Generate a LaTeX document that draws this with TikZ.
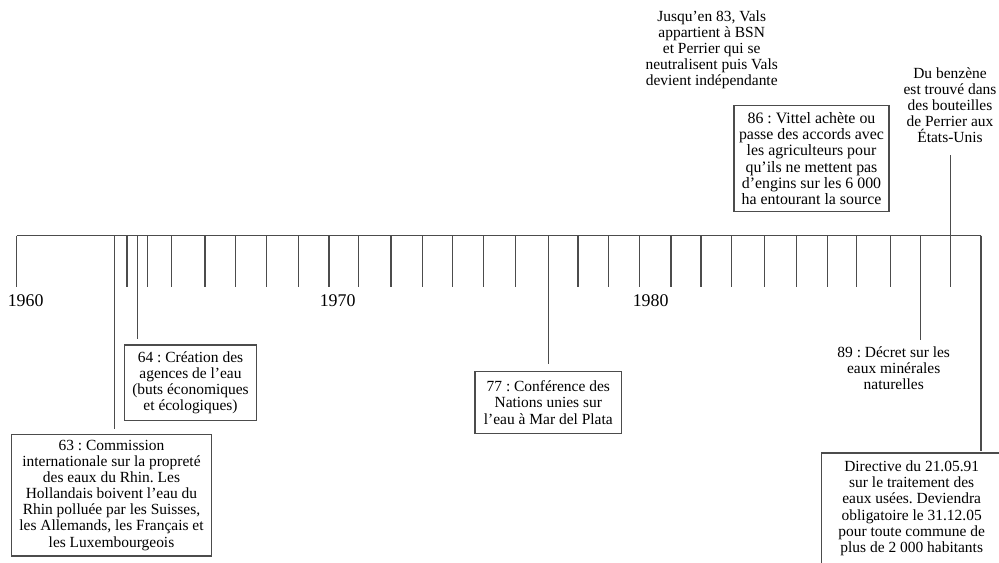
\documentclass[tikz,border=0pt]{standalone}
\usepackage{fontspec}
\setmainfont{Liberation Serif}
\frenchspacing
\tikzset{
  axe/.style={black!70, line width=0.9pt},
  evt/.style={draw=black!70, line width=0.9pt, align=center, inner xsep=0pt,
    inner ysep=3pt, minimum width=#1, font=\fontsize{11.6}{12.1}\selectfont},
  note/.style={align=center, inner sep=3pt, font=\fontsize{11.6}{12.1}\selectfont},
  annee/.style={anchor=west, inner sep=0pt, font=\fontsize{13.4}{14}\selectfont}
}
\begin{document}
\begin{tikzpicture}[x=0.75pt, y=-0.75pt]
        \useasboundingbox (0,0) rectangle (999,563);
        \clip (0,0) rectangle (999,563);
        % 1. Axe du temps et graduations
        \draw[axe] (16.7,235.5) -- (981,235.5);
        \foreach \x in {16.7,114.3,127,137.7,147.7,171.7,205,235.7,266.7,298.7,
                        329,358.7,391,422.7,452.3,483.3,515.7,548.3,578,608.3,
                        639.7,671,701,731.7,764.3,796.3,827.7,856.7,890.3,920.7,950.7,981}
            \draw[axe] (\x,235.5) -- (\x,287);
        \coordinate (t63) at (114.3,235.5);
        \coordinate (t64) at (137.7,235.5);
        \coordinate (t77) at (548.3,235.5);
        \coordinate (t89) at (920.7,235.5);
        \coordinate (t90) at (950.7,235.5);
        \coordinate (t91) at (981,235.5);

        % 2. Années
        \node[annee] (a1960) at (7.5,301) {1960};
        \node[annee] (a1970) at (319.5,301) {1970};
        \node[annee] (a1980) at (632.5,301) {1980};

        % 3. Événements sous l'axe
        \node[evt=150.3pt, minimum height=91.3pt] (b63) at (111.5,495.2)
            {63 : Commission\\internationale sur la propreté\\des eaux du Rhin. Les\\Hollandais boivent l’eau du\\Rhin polluée par les Suisses,\\les Allemands, les Français et\\les Luxembourgeois};
        \node[evt=99.3pt, minimum height=56.5pt] (b64) at (190.5,382.7)
            {64 : Création des\\agences de l’eau\\(buts économiques\\et écologiques)};
        \node[evt=110pt, minimum height=46.2pt] (b77) at (548.3,402.5)
            {77 : Conférence des\\Nations unies sur\\l’eau à Mar del Plata};
        \node[note] (n89) at (893.7,368.3)
            {89 : Décret sur les\\eaux minérales\\naturelles};
        \node[evt=135pt, minimum height=83pt] (dir) at (911.7,508.3)
            {Directive du 21.05.91\\sur le traitement des\\eaux usées. Deviendra\\obligatoire le 31.12.05\\pour toute commune de\\plus de 2~000 habitants};

        % 4. Événements au-dessus
        \node[evt=116.3pt, minimum height=79pt, font=\fontsize{11.9}{12.1}\selectfont] (b86) at (811.5,158.5)
            {86 : Vittel achète ou\\passe des accords avec\\les agriculteurs pour\\qu’ils ne mettent pas\\d’engins sur les 6~000\\ha entourant la source};
        \node[note] (vals) at (711.7,50)
            {Jusqu’en 83, Vals\\appartient à BSN\\et Perrier qui se\\neutralisent puis Vals\\devient indépendante};
        \node[note] (ben) at (950,105)
            {Du benzène\\est trouvé dans\\des bouteilles\\de Perrier aux\\États-Unis};

        % 5. Liaisons
        \draw[axe, shorten >=3.2pt] (t63) -- (t63 |- b63.north);
        \draw[axe, shorten >=4.3pt] (t64) -- (t64 |- b64.north);
        \draw[axe, shorten >=5pt] (t77) -- (t77 |- b77.north);
        \draw[axe, shorten >=2pt] (t89) -- (t89 |- n89.north);
        \draw[axe, shorten >=1pt] (t91) -- (t91 |- dir.north);
        \draw[axe, shorten >=6pt] (t90) -- (t90 |- ben.south);
\end{tikzpicture}
\end{document}
